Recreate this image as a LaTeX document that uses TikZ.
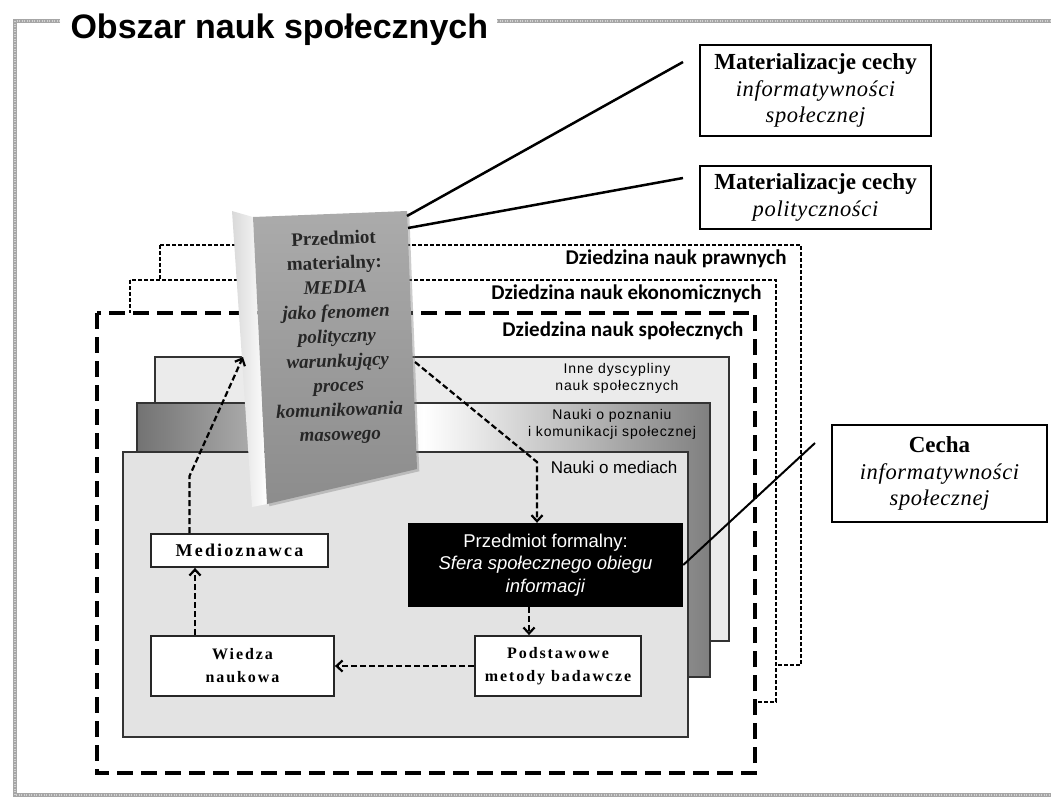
\documentclass[tikz,border=0pt]{standalone}
\usepackage{fontspec}
\setmainfont{Liberation Serif}
\newfontfamily\spaced[LetterSpace=12]{Liberation Serif}
\newfontfamily\italicwide[LetterSpace=3]{Liberation Serif}
\newfontfamily\arialfont{Liberation Sans}
\newfontfamily\arialspaced[LetterSpace=6]{Liberation Sans}
\newfontfamily\carlitofont{Carlito}
\newcommand{\featureit}[1]{{\italicwide\itshape\fontsize{22.5}{26.5}\selectfont #1}}
\usetikzlibrary{arrows.meta,shadows}

\begin{document}
\begin{tikzpicture}[x=1pt, y=-1pt,
    arr/.style={line width=2.2pt, dash pattern=on 6pt off 3pt, -{Straight Barb[length=6pt,width=11pt]}},
    feature/.style={draw, line width=2.5pt, fill=white, align=center, inner sep=0pt, font=\fontsize{23}{26.5}\selectfont},
    whitebox/.style={draw=black!85, line width=1.8pt, fill=white, align=center, inner sep=0pt, font=\spaced\bfseries\fontsize{16}{23}\selectfont},
    fieldlabel/.style={anchor=east, font=\carlitofont\bfseries\fontsize{21}{24}\selectfont},
    discipline/.style={align=center, font=\arialspaced\fontsize{14}{17}\selectfont}]
    \useasboundingbox (0,0) rectangle (1051,798);

    \draw[line width=4pt, gray!70] (60,21) -- (15,21) -- (15,795) -- (1060,795);
    \draw[line width=4pt, gray!70] (497,21) -- (1060,21);
    \draw[line width=2pt, gray!35, dash pattern=on 1pt off 1.5pt] (60,21) -- (15,21) -- (15,795) -- (1060,795);
    \draw[line width=2pt, gray!35, dash pattern=on 1pt off 1.5pt] (497,21) -- (1060,21);
    \node[anchor=base west, font=\arialfont\bfseries\fontsize{34}{34}\selectfont] (title) at (67,38) {Obszar nauk społecznych};

    \draw[fill=white, line width=1.3pt, dash pattern=on 4pt off 2pt] (160,245) rectangle (801,665);
    \draw[fill=white, line width=1.3pt, dash pattern=on 4pt off 2pt] (130,280) rectangle (776,702);
    \draw[fill=white, line width=4pt, dash pattern=on 16pt off 8pt] (97,313) rectangle (755,773);
    \node[fieldlabel] (prawne) at (790,259) {Dziedzina nauk prawnych};
    \node[fieldlabel] (ekon) at (765,294) {Dziedzina nauk ekonomicznych};
    \node[fieldlabel] (spol) at (747,331) {Dziedzina nauk społecznych};

    \filldraw[fill=black!8, draw=black!80, line width=1.5pt] (155,357) rectangle (729,641);
    \shade[left color=black!55, right color=black!50, middle color=white] (137,403) rectangle (710,677);
    \draw[black!80, line width=1.5pt] (137,403) rectangle (710,677);
    \filldraw[fill=black!11, draw=black!80, line width=1.5pt] (123,452) rectangle (688,737);
    \node[discipline] (inne) at (617,378) {Inne dyscypliny\\nauk społecznych};
    \node[discipline] (pozn) at (612,424) {Nauki o poznaniu\\i komunikacji społecznej};
    \node[anchor=east, font=\arialfont\fontsize{17}{17}\selectfont] (medialbl) at (681,467) {Nauki o mediach};

    \shade[left color=gray!30, right color=white] (232,211) -- (253,217) -- (267,504) -- (252,507) -- cycle;
    \path[drop shadow={opacity=0.4}, top color=black!33, bottom color=black!45] (253,217) -- (407,211) -- (417,469) -- (267,504) -- cycle;
    \node[align=center, rotate=2, text=black!85, font=\bfseries\fontsize{19}{24.5}\selectfont] (book) at (337,338) {Przedmiot\\materialny:\\\textit{MEDIA}\\\textit{jako fenomen}\\\textit{polityczny}\\\textit{warunkujący}\\\textit{proces}\\\textit{komunikowania}\\\textit{masowego}};
    \coordinate (faceTR) at (407,216);
    \coordinate (faceTR2) at (408,228);
    \coordinate (spineL) at (243,357);
    \coordinate (faceR) at (415,362);
    \coordinate (bend2) at (537,462);
    \coordinate (m1end) at (683,62);
    \coordinate (m2end) at (683,178);
    \coordinate (cend) at (815,443);

    \node[feature, minimum width=231pt, minimum height=91pt] (mat1) at (815.5,90.5) {\textbf{Materializacje cechy}\\\featureit{informatywności}\\\featureit{społecznej}};
    \node[feature, minimum width=231pt, minimum height=63pt] (mat2) at (815.5,197.5) {\textbf{Materializacje cechy}\\\featureit{polityczności}};
    \node[feature, minimum width=215pt, minimum height=97pt] (cecha) at (939.5,473.5) {\textbf{Cecha}\\\featureit{informatywności}\\\featureit{społecznej}};

    \node[fill=black, text=white, align=center, minimum width=275pt, minimum height=84pt, inner sep=0pt, font=\arialfont\fontsize{18.5}{22.5}\selectfont] (formal) at (545.5,565) {Przedmiot formalny:\\\textit{Sfera społecznego obiegu}\\\textit{informacji}};
    \node[whitebox, minimum width=177pt, minimum height=33pt, font=\spaced\bfseries\fontsize{18}{23}\selectfont] (medio) at (239.5,550.5) {Medioznawca};
    \node[whitebox, minimum width=183pt, minimum height=60pt] (wiedza) at (242.5,666) {Wiedza\\naukowa};
    \node[whitebox, minimum width=166pt, minimum height=60pt] (metody) at (558,666) {Podstawowe\\metody badawcze};

    \draw[line width=2.5pt] (faceTR) -- (m1end);
    \draw[line width=2.5pt] (faceTR2) -- (m2end);
    \draw[line width=2pt] (formal.east) -- (cend);

    \draw[arr] (metody.west) -- (wiedza.east);
    \draw[arr] ([xshift=-47.5pt]wiedza.north) -- ([xshift=-44.5pt]medio.south);
    \draw[arr] ([xshift=-50pt]medio.north) -- ++(0,-57) -- (spineL);
    \draw[arr] (faceR) -- (bend2) -- (bend2 |- formal.north);
    \draw[arr] ([xshift=-16.5pt]formal.south) -- ([xshift=-16.5pt]formal.south |- metody.north);
\end{tikzpicture}
\end{document}
